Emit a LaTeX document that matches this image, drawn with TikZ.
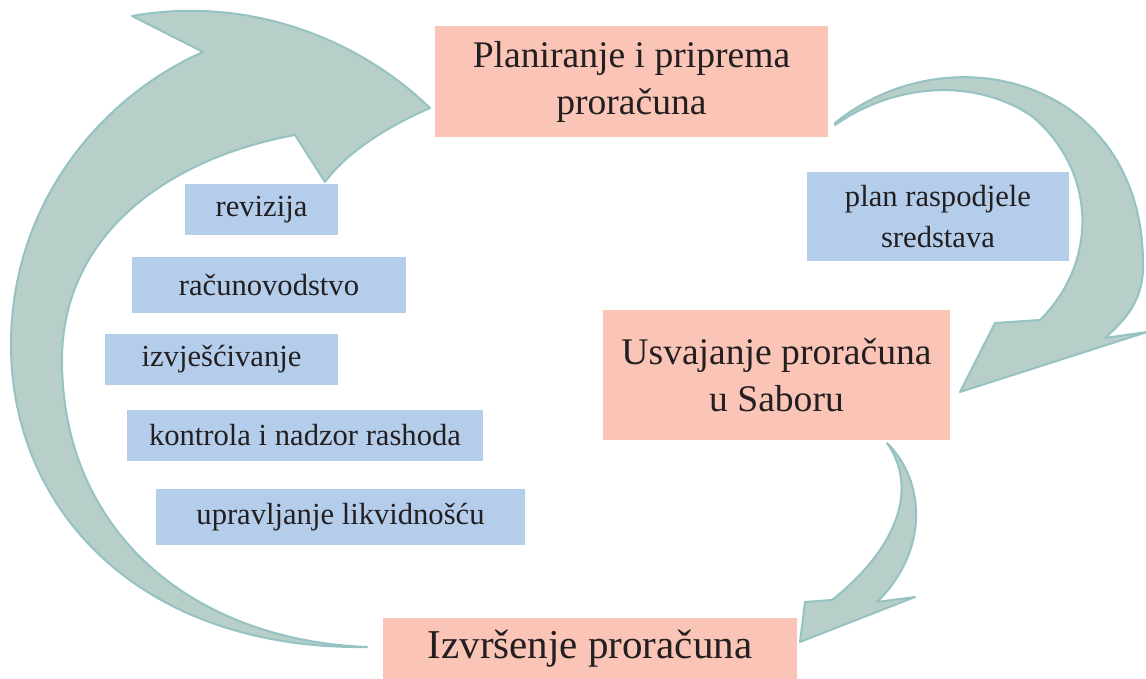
\documentclass[tikz,border=0pt]{standalone}
\usepackage{fontspec}
\setmainfont{Liberation Serif}
\definecolor{salmon}{HTML}{FAC5B7}
\definecolor{lblue}{HTML}{B4CDEB}
\definecolor{afill}{HTML}{B8CEC8}
\definecolor{aline}{HTML}{95C2C2}
\definecolor{txt}{HTML}{231F20}
\begin{document}
\begin{tikzpicture}[x=0.5pt,y=-0.5pt,
 sbox/.style={fill=lblue, inner sep=0pt, text=txt, font=\fontsize{15.3pt}{20.5pt}\selectfont, align=center},
 bbox/.style={fill=salmon, inner sep=0pt, text=txt, font=\fontsize{18.8pt}{23.5pt}\selectfont, align=center},
 blockarrow/.style={fill=afill, draw=aline, line width=1pt, line join=round}]
\useasboundingbox (0,0) rectangle (1146,679);
% left big arrow
\path[blockarrow] (367,647) .. controls (140,650) and (11,510) .. (11,345)
  .. controls (11,200) and (105,95) .. (203,52)
  -- (132,16) .. controls (250,-5) and (360,40) .. (430,108)
  .. controls (380,130) and (345,155) .. (325,182)
  -- (295,135) .. controls (160,160) and (62,240) .. (62,360)
  .. controls (62,530) and (190,640) .. (367,647) -- cycle;
% right top arrow
\path[blockarrow] (835,123) .. controls (950,30) and (1140,80) .. (1143,260)
  .. controls (1145,300) and (1125,320) .. (1105,338)
  -- (1147,332) -- (960,392) -- (995,323) -- (1040,320)
  .. controls (1100,260) and (1095,170) .. (1033,117)
  .. controls (980,80) and (900,80) .. (835,125) -- cycle;
% lower right arrow
\path[blockarrow] (887,443) .. controls (925,480) and (930,550) .. (877,602)
  -- (915,597) -- (800,642) -- (805,602) -- (832,600)
  .. controls (895,550) and (920,490) .. (887,443) -- cycle;
% main boxes
\node[bbox, minimum width=196.5pt, minimum height=55.5pt] (plan) at (631.5,81.5) {Planiranje i priprema\\proračuna};
\node[bbox, minimum width=173.5pt, minimum height=65pt] (usv) at (776.5,375) {Usvajanje proračuna\\u Saboru};
\node[bbox, minimum width=207pt, minimum height=30.5pt, font=\fontsize{20.5pt}{24pt}\selectfont] (izv) at (590,648.5) {Izvršenje proračuna};
% small boxes
\node[sbox, minimum width=131pt, minimum height=44.5pt] (rasp) at (938,216.5) {plan raspodjele\\sredstava};
\node[sbox, minimum width=76.5pt, minimum height=25.5pt] (rev) at (261.5,209.5) {revizija};
\node[sbox, minimum width=137pt, minimum height=28pt] (rac) at (269,285) {računovodstvo};
\node[sbox, minimum width=116.5pt, minimum height=25.5pt] (izvj) at (221.5,359.5) {izvješćivanje};
\node[sbox, minimum width=178pt, minimum height=25.5pt] (kon) at (305,435.5) {kontrola i nadzor rashoda};
\node[sbox, minimum width=184.5pt, minimum height=28pt] (upr) at (340.5,517) {upravljanje likvidnošću};
\end{tikzpicture}
\end{document}
